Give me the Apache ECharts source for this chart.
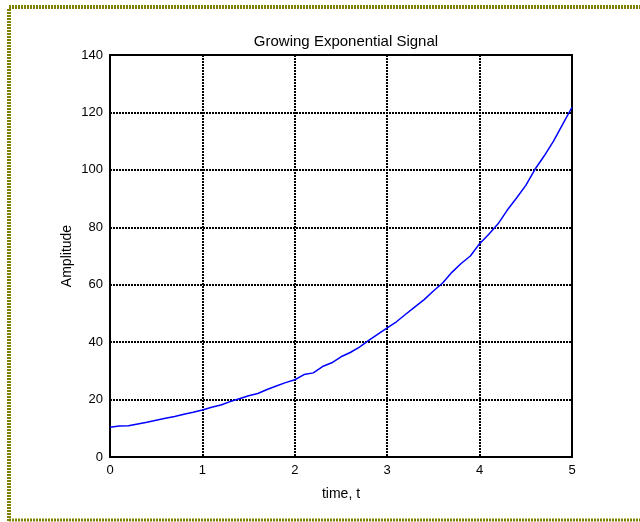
<!DOCTYPE html>
<html>
<head>
<meta charset="utf-8">
<script src="https://cdn.jsdelivr.net/npm/echarts@6/dist/echarts.min.js"></script>
<style>
  html, body { margin: 0; padding: 0; background: #fff; }
  #chart { width: 640px; height: 522px; }
</style>
</head>
<body>
<div id="chart"></div>
<script>
// Sample times (s) and the measured amplitude of the growing signal
const times = [
  0.0, 0.1, 0.2, 0.3, 0.4, 0.5, 0.6, 0.7, 0.8, 0.9,
  1.0, 1.1, 1.2, 1.3, 1.4, 1.5, 1.6, 1.7, 1.8, 1.9,
  2.0, 2.1, 2.2, 2.3, 2.4, 2.5, 2.6, 2.7, 2.8, 2.9,
  3.0, 3.1, 3.2, 3.3, 3.4, 3.5, 3.6, 3.7, 3.8, 3.9,
  4.0, 4.1, 4.2, 4.3, 4.4, 4.5, 4.6, 4.7, 4.8, 4.9, 5.0
];
const amplitude = [
  10.4, 10.8, 10.9, 11.5, 12.1, 12.8, 13.5, 14.1, 14.9, 15.6,
  16.4, 17.3, 18.1, 19.3, 20.3, 21.3, 22.1, 23.5, 24.7, 25.9,
  26.9, 28.7, 29.3, 31.5, 32.8, 34.9, 36.4, 38.3, 40.6, 42.8,
  45.0, 47.1, 49.7, 52.3, 54.8, 57.8, 60.6, 64.3, 67.4, 70.0,
  74.3, 77.6, 81.2, 86.0, 90.2, 94.6, 100.2, 104.9, 110.0, 115.9, 121.8
];
const xTicks = [0, 1, 2, 3, 4, 5];
const yTicks = [0, 20, 40, 60, 80, 100, 120, 140];

const chart = echarts.init(document.getElementById('chart'), null, { renderer: 'canvas' });
const FONT = 'Liberation Sans, Arial, sans-serif';
const gridLine = { show: true, lineStyle: { color: '#000', width: 2, type: [2, 1] } };

chart.setOption({
  animation: false,
  backgroundColor: '#fff',
  title: {
    text: 'Growing Exponential Signal',
    left: 341, top: 29, textAlign: 'center',
    textStyle: { fontFamily: FONT, fontSize: 15, fontWeight: 'normal', color: '#000' }
  },
  grid: {
    left: 110, right: 68, top: 55, bottom: 65,
    show: true, borderColor: '#000', borderWidth: 2, backgroundColor: 'transparent'
  },
  xAxis: {
    type: 'value', min: xTicks[0], max: xTicks[xTicks.length - 1], interval: 1,
    name: 'time, t', nameLocation: 'middle', nameGap: 30,
    nameTextStyle: { fontFamily: FONT, fontSize: 14, color: '#000' },
    axisLine: { show: true, lineStyle: { color: '#000', width: 2 } },
    axisTick: { show: false },
    axisLabel: { fontFamily: FONT, fontSize: 13, color: '#000', margin: 7 },
    splitLine: gridLine
  },
  yAxis: {
    type: 'value', min: yTicks[0], max: yTicks[yTicks.length - 1], interval: 20,
    name: 'Amplitude', nameLocation: 'middle', nameGap: 36, nameRotate: 90,
    nameMoveOverlap: false,
    nameTextStyle: { fontFamily: FONT, fontSize: 14, color: '#000' },
    axisLine: { show: true, lineStyle: { color: '#000', width: 2 } },
    axisTick: { show: false },
    axisLabel: { fontFamily: FONT, fontSize: 13, color: '#000', margin: 7 },
    splitLine: gridLine
  },
  series: [{
    type: 'line',
    data: times.map((t, i) => [t, amplitude[i]]),
    showSymbol: false,
    lineStyle: { color: '#0000ff', width: 1.5 },
    z: 5
  }],
  graphic: [
    // dotted olive frame: top, left and bottom edges
    { type: 'line', shape: { x1: 9, y1: 7, x2: 640, y2: 7 },
      style: { stroke: '#808000', lineWidth: 4, lineDash: [2, 1] } },
    { type: 'line', shape: { x1: 9, y1: 9, x2: 9, y2: 522 },
      style: { stroke: '#808000', lineWidth: 4, lineDash: [2, 1] } },
    { type: 'line', shape: { x1: 9, y1: 520, x2: 640, y2: 520 },
      style: { stroke: '#808000', lineWidth: 3, lineDash: [2, 1] } }
  ]
});
</script>
</body>
</html>
